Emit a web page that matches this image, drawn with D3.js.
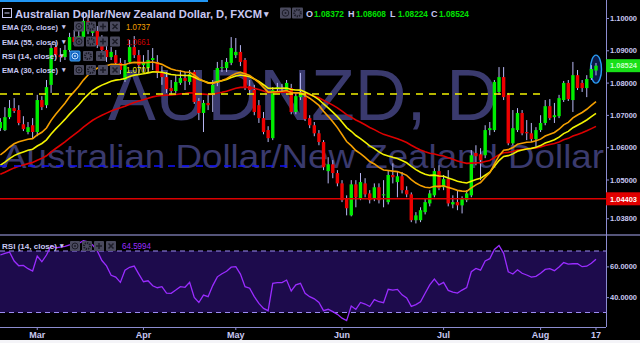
<!DOCTYPE html>
<html>
<head>
<meta charset="utf-8">
<script src="https://cdn.jsdelivr.net/npm/d3@7"></script>
<style>
  html, body { margin: 0; padding: 0; background: #000; overflow: hidden; }
  svg { display: block; }
  text { font-family: "Liberation Sans", Arial, sans-serif; }
</style>
</head>
<body>
<script>
// - AUDNZD daily candles with EMA 20/30/55 and RSI 14 -

// Data (Feb 17 - Aug 17 2017, weekdays)

const open = [
  1.0659, 1.0653, 1.0693, 1.0721, 1.0715, 1.0671, 1.0647, 1.0668, 1.0647, 1.0746,
  1.0730, 1.0793, 1.0910, 1.0885, 1.0879, 1.0901, 1.0941, 1.0926, 1.0941, 1.0991,
  1.0954, 1.0960, 1.0916, 1.0901, 1.0879, 1.0885, 1.0861, 1.0808, 1.0864, 1.0910,
  1.0885, 1.0854, 1.0845, 1.0870, 1.0864, 1.0830, 1.0817, 1.0783, 1.0774, 1.0799,
  1.0814, 1.0802, 1.0833, 1.0743, 1.0706, 1.0737, 1.0768, 1.0799, 1.0845, 1.0845,
  1.0861, 1.0885, 1.0895, 1.0870, 1.0789, 1.0777, 1.0730, 1.0690, 1.0653, 1.0628,
  1.0780, 1.0783, 1.0777, 1.0783, 1.0709, 1.0755, 1.0755, 1.0690, 1.0668, 1.0643,
  1.0616, 1.0526, 1.0547, 1.0520, 1.0488, 1.0442, 1.0389, 1.0485, 1.0442, 1.0488,
  1.0457, 1.0442, 1.0476, 1.0451, 1.0430, 1.0514, 1.0492, 1.0510, 1.0467, 1.0454,
  1.0374, 1.0374, 1.0399, 1.0426, 1.0451, 1.0526, 1.0476, 1.0501, 1.0423, 1.0430,
  1.0420, 1.0436, 1.0451, 1.0582, 1.0578, 1.0575, 1.0653, 1.0653, 1.0771, 1.0817,
  1.0762, 1.0612, 1.0653, 1.0706, 1.0647, 1.0643, 1.0625, 1.0653, 1.0675, 1.0727,
  1.0693, 1.0696, 1.0746, 1.0799, 1.0746, 1.0823, 1.0799, 1.0783, 1.0814, 1.08372
];
const high = [
  1.0690, 1.0724, 1.0746, 1.0752, 1.0730, 1.0696, 1.0678, 1.0690, 1.0762, 1.0758,
  1.0808, 1.0919, 1.0926, 1.0907, 1.0916, 1.0954, 1.0963, 1.0969, 1.1019, 1.1009,
  1.0981, 1.0975, 1.0947, 1.0916, 1.0910, 1.0901, 1.0876, 1.0870, 1.0932, 1.0944,
  1.0901, 1.0885, 1.0901, 1.0907, 1.0885, 1.0851, 1.0833, 1.0808, 1.0823, 1.0839,
  1.0833, 1.0839, 1.0839, 1.0752, 1.0746, 1.0762, 1.0808, 1.0864, 1.0870, 1.0876,
  1.0941, 1.0938, 1.0916, 1.0876, 1.0808, 1.0793, 1.0746, 1.0709, 1.0665, 1.0786,
  1.0799, 1.0796, 1.0808, 1.0796, 1.0768, 1.0830, 1.0771, 1.0699, 1.0678, 1.0653,
  1.0622, 1.0569, 1.0560, 1.0529, 1.0498, 1.0451, 1.0498, 1.0498, 1.0520, 1.0504,
  1.0467, 1.0488, 1.0488, 1.0498, 1.0529, 1.0550, 1.0523, 1.0523, 1.0479, 1.0460,
  1.0399, 1.0414, 1.0442, 1.0467, 1.0535, 1.0544, 1.0514, 1.0529, 1.0451, 1.0467,
  1.0448, 1.0467, 1.0591, 1.0606, 1.0597, 1.0668, 1.0678, 1.0808, 1.0848, 1.0848,
  1.0768, 1.0715, 1.0721, 1.0715, 1.0684, 1.0675, 1.0662, 1.0699, 1.0746, 1.0749,
  1.0737, 1.0762, 1.0805, 1.0808, 1.0864, 1.0839, 1.0808, 1.0823, 1.0854, 1.08608
];
const low = [
  1.0650, 1.0650, 1.0687, 1.0706, 1.0668, 1.0650, 1.0640, 1.0628, 1.0634, 1.0715,
  1.0721, 1.0768, 1.0879, 1.0864, 1.0870, 1.0895, 1.0916, 1.0913, 1.0932, 1.0950,
  1.0944, 1.0907, 1.0888, 1.0864, 1.0870, 1.0839, 1.0826, 1.0802, 1.0857, 1.0876,
  1.0823, 1.0833, 1.0833, 1.0839, 1.0814, 1.0793, 1.0768, 1.0762, 1.0768, 1.0793,
  1.0777, 1.0793, 1.0734, 1.0684, 1.0647, 1.0715, 1.0709, 1.0789, 1.0833, 1.0833,
  1.0854, 1.0876, 1.0851, 1.0777, 1.0762, 1.0699, 1.0675, 1.0640, 1.0616, 1.0622,
  1.0768, 1.0768, 1.0771, 1.0702, 1.0702, 1.0746, 1.0681, 1.0659, 1.0634, 1.0606,
  1.0529, 1.0488, 1.0504, 1.0479, 1.0430, 1.0389, 1.0386, 1.0414, 1.0436, 1.0445,
  1.0426, 1.0433, 1.0426, 1.0414, 1.0423, 1.0488, 1.0445, 1.0457, 1.0445, 1.0368,
  1.0364, 1.0368, 1.0392, 1.0417, 1.0445, 1.0467, 1.0467, 1.0417, 1.0411, 1.0405,
  1.0395, 1.0430, 1.0445, 1.0544, 1.0498, 1.0566, 1.0637, 1.0647, 1.0762, 1.0746,
  1.0606, 1.0606, 1.0647, 1.0637, 1.0622, 1.0616, 1.0600, 1.0647, 1.0668, 1.0684,
  1.0675, 1.0690, 1.0740, 1.0743, 1.0709, 1.0777, 1.0771, 1.0755, 1.0808, 1.08224
];
const close = [
  1.0678, 1.0693, 1.0721, 1.0712, 1.0675, 1.0656, 1.0662, 1.0647, 1.0746, 1.0724,
  1.0786, 1.0907, 1.0885, 1.0879, 1.0901, 1.0941, 1.0926, 1.0944, 1.0991, 1.0972,
  1.0963, 1.0916, 1.0901, 1.0879, 1.0895, 1.0861, 1.0839, 1.0854, 1.0910, 1.0885,
  1.0854, 1.0861, 1.0870, 1.0876, 1.0830, 1.0817, 1.0780, 1.0774, 1.0802, 1.0814,
  1.0805, 1.0826, 1.0740, 1.0706, 1.0737, 1.0730, 1.0793, 1.0845, 1.0848, 1.0864,
  1.0907, 1.0895, 1.0864, 1.0786, 1.0777, 1.0709, 1.0690, 1.0647, 1.0628, 1.0777,
  1.0786, 1.0780, 1.0799, 1.0709, 1.0758, 1.0768, 1.0687, 1.0668, 1.0643, 1.0616,
  1.0538, 1.0547, 1.0520, 1.0488, 1.0436, 1.0411, 1.0485, 1.0445, 1.0492, 1.0454,
  1.0436, 1.0476, 1.0436, 1.0454, 1.0514, 1.0507, 1.0510, 1.0467, 1.0454, 1.0374,
  1.0389, 1.0405, 1.0430, 1.0457, 1.0526, 1.0473, 1.0501, 1.0426, 1.0430, 1.0420,
  1.0442, 1.0457, 1.0575, 1.0572, 1.0560, 1.0653, 1.0659, 1.0802, 1.0817, 1.0755,
  1.0612, 1.0659, 1.0706, 1.0643, 1.0643, 1.0625, 1.0653, 1.0675, 1.0727, 1.0690,
  1.0699, 1.0752, 1.0799, 1.0749, 1.0823, 1.0783, 1.0783, 1.0811, 1.0842, 1.08524
];
const rsiValues = [
  67.4, 68.4, 69.3, 63.5, 60.4, 60.6, 58.5, 57.0, 66.7, 63.0,
  67.4, 73.5, 72.0, 72.5, 73.0, 74.0, 74.0, 75.0, 76.7, 76.0,
  73.9, 70.1, 63.8, 60.3, 54.2, 53.0, 49.6, 57.5, 59.4, 60.2,
  55.0, 50.0, 50.6, 47.4, 46.1, 46.8, 42.6, 42.5, 44.6, 46.8,
  46.4, 49.7, 39.8, 36.5, 41.3, 40.3, 47.5, 53.2, 55.2, 56.8,
  59.5, 59.8, 55.0, 46.8, 45.8, 40.3, 35.9, 32.7, 31.2, 49.0,
  49.4, 49.4, 51.1, 44.0, 48.0, 49.0, 42.5, 40.3, 38.9, 36.5,
  31.2, 32.1, 30.6, 28.8, 26.3, 24.7, 34.2, 32.0, 36.5, 35.5,
  33.9, 38.4, 37.0, 36.4, 45.1, 44.6, 45.0, 41.5, 39.4, 34.0,
  35.1, 37.0, 42.5, 48.0, 51.7, 48.0, 49.6, 44.4, 43.3, 42.6,
  44.6, 46.2, 56.5, 58.7, 57.5, 63.5, 65.0, 71.0, 73.6, 68.5,
  56.5, 55.0, 57.8, 55.5, 54.4, 53.0, 53.5, 55.5, 58.0, 58.5,
  57.2, 59.6, 62.5, 61.5, 61.7, 61.8, 59.8, 60.1, 62.0, 64.5994
];

// EMA start values at the first visible candle, and the legend readouts
const emaSeeds = { 20: 1.0576, 30: 1.0544, 55: 1.0516 };
const emaLegend = { 20: "1.0737", 55: "1.0661", 30: "1.0701" };

const priceTicks = [1.10, 1.09, 1.08, 1.07, 1.06, 1.05, 1.038];
const rsiTicks = [60, 40];
const rsiBands = [70, 30];
const supportLevel = 1.04403,
      yellowLevel = 1.0765,
      blueLevel = 1.0542;
const lastClose = 1.08524;

// Size

const w = 640, h = 343,
      paneR = 606,
      mainB = 234,
      rsiB = 327;

const svg = d3.select("body").append("svg")
              .attr("width", w)
              .attr("height", h);

svg.append("rect").attr("width", w).attr("height", h).attr("fill", "#000");

// Scales

const dates = d3.timeDay.range(new Date(2017, 1, 17), new Date(2017, 7, 18))
                .filter(d => d.getDay() % 6 !== 0)
                .slice(0, close.length);

const data = dates.map((d, i) => ({ date: d, o: open[i], h: high[i], l: low[i], c: close[i], rsi: rsiValues[i] }));

const x = d3.scaleBand().domain(dates).range([-2, 598.3]);
const cx = d => x(d) + x.bandwidth() / 2;
const y = d3.scaleLinear().domain([1.03313, 1.10557]).range([mainB, 0]);
const yr = d3.scaleLinear().domain([30, 70]).range([312.5, 251]);

function ema(n) {
  const a = 2 / (n + 1);
  let e = emaSeeds[n];
  return close.map((c, i) => (e = i === 0 ? emaSeeds[n] : a * c + (1 - a) * e));
}

const defs = svg.append("defs");
defs.append("clipPath").attr("id", "mainClip")
    .append("rect").attr("width", paneR).attr("height", mainB);
defs.append("clipPath").attr("id", "rsiClip")
    .append("rect").attr("y", mainB + 2).attr("width", paneR).attr("height", rsiB - mainB - 2);

// Main pane

const main = svg.append("g").attr("clip-path", "url(#mainClip)");

main.append("text")
    .attr("x", 303).attr("y", 120)
    .attr("text-anchor", "middle")
    .attr("font-size", 72)
    .attr("textLength", 390).attr("lengthAdjust", "spacingAndGlyphs")
    .attr("fill", "#3a3a6e")
    .text("AUDNZD, D");

main.append("text")
    .attr("x", 303).attr("y", 168)
    .attr("text-anchor", "middle")
    .attr("font-size", 34)
    .attr("textLength", 602).attr("lengthAdjust", "spacingAndGlyphs")
    .attr("fill", "#3a3a6e")
    .text("Australian Dollar/New Zealand Dollar");

// highlight around the last candle
const last = data[data.length - 1];
main.append("ellipse")
    .attr("cx", cx(last.date)).attr("cy", y((last.h + last.l) / 2))
    .attr("rx", 5.5).attr("ry", 14)
    .attr("fill", "#0a1a4a")
    .attr("stroke", "#2a9df4").attr("stroke-width", 1.4);

// candles
const candle = main.append("g");

candle.selectAll("line")
      .data(data)
      .join("line")
      .attr("x1", d => cx(d.date)).attr("x2", d => cx(d.date))
      .attr("y1", d => y(d.h)).attr("y2", d => y(d.l))
      .attr("stroke", "#b8b8f4").attr("stroke-width", 1);

candle.selectAll("rect")
      .data(data)
      .join("rect")
      .attr("x", d => cx(d.date) - 1.7)
      .attr("width", 3.4)
      .attr("y", d => y(Math.max(d.o, d.c)))
      .attr("height", d => Math.max(1, Math.abs(y(d.o) - y(d.c))))
      .attr("fill", d => d.c >= d.o ? "#00ee00" : "#ee0000");

// EMA lines
const line = d3.line().x((d, i) => cx(dates[i])).y(d => y(d));

[[55, "#dd0000"], [30, "#f2f200"], [20, "#f5a000"]].forEach(([n, col]) => {
  main.append("path")
      .datum(ema(n))
      .attr("d", line)
      .attr("fill", "none")
      .attr("stroke", col)
      .attr("stroke-width", 1.6);
});

// horizontal levels
main.append("line")
    .attr("x1", 0).attr("x2", cx(dates[117]))
    .attr("y1", y(yellowLevel)).attr("y2", y(yellowLevel))
    .attr("stroke", "#f2f200").attr("stroke-width", 1.5)
    .attr("stroke-dasharray", "7,6");

main.append("line")
    .attr("x1", 0).attr("x2", cx(dates[64]))
    .attr("y1", y(blueLevel)).attr("y2", y(blueLevel))
    .attr("stroke", "#1010ff").attr("stroke-width", 1.5)
    .attr("stroke-dasharray", "7,7");

main.append("line")
    .attr("x1", 0).attr("x2", paneR)
    .attr("y1", y(supportLevel)).attr("y2", y(supportLevel))
    .attr("stroke", "#dd0000").attr("stroke-width", 1.5);

// RSI pane

const rsiG = svg.append("g").attr("clip-path", "url(#rsiClip)");

rsiG.append("rect")
    .attr("x", 0).attr("width", paneR)
    .attr("y", yr(rsiBands[0])).attr("height", yr(rsiBands[1]) - yr(rsiBands[0]))
    .attr("fill", "#1d0b4c");

rsiG.selectAll("line.band")
    .data(rsiBands)
    .join("line")
    .attr("class", "band")
    .attr("x1", 0).attr("x2", paneR)
    .attr("y1", d => yr(d)).attr("y2", d => yr(d))
    .attr("stroke", "#9c8cf2").attr("stroke-width", 1)
    .attr("stroke-dasharray", "5,4");

rsiG.append("path")
    .datum(data)
    .attr("d", d3.line().x(d => cx(d.date)).y(d => yr(d.rsi)))
    .attr("fill", "none")
    .attr("stroke", "#9a2cff")
    .attr("stroke-width", 1.3);

// Frame lines

svg.append("rect").attr("x", 0).attr("y", mainB).attr("width", w).attr("height", 2).attr("fill", "#55557a");
svg.append("line").attr("x1", paneR + 0.5).attr("x2", paneR + 0.5).attr("y1", 0).attr("y2", rsiB)
   .attr("stroke", "#8c8cd0").attr("stroke-width", 1);
svg.append("line").attr("x1", 0).attr("x2", paneR).attr("y1", rsiB + 0.5).attr("y2", rsiB + 0.5)
   .attr("stroke", "#8c8cd0").attr("stroke-width", 1);
svg.append("rect").attr("x", 0).attr("y", 340).attr("width", w).attr("height", 3).attr("fill", "#f4f4f8");
svg.append("rect").attr("x", 0).attr("y", 0).attr("width", 208).attr("height", 2).attr("fill", "#2196f3");

// Axes

const labelColor = "#c8c8f2";

function styleAxis(g, width) {
  g.select(".domain").remove();
  g.selectAll(".tick line").attr("stroke", "#8c8cd0");
  g.selectAll(".tick text")
   .attr("fill", labelColor)
   .attr("font-size", width ? 8 : 9)
   .attr("font-weight", "bold")
   .attr("font-family", "Liberation Sans, Arial, sans-serif");
  if (width) g.selectAll(".tick text").attr("textLength", width).attr("lengthAdjust", "spacingAndGlyphs");
}

svg.append("g")
   .attr("transform", `translate(${paneR},0)`)
   .call(d3.axisRight(y).tickValues(priceTicks).tickFormat(d3.format(".5f")).tickSize(3).tickPadding(1))
   .call(g => styleAxis(g, 27));

svg.append("g")
   .attr("transform", `translate(${paneR},0)`)
   .call(d3.axisRight(yr).tickValues(rsiTicks).tickFormat(d3.format(".4f")).tickSize(3).tickPadding(1))
   .call(g => styleAxis(g, 27));

const monthStarts = dates.filter((d, i) => i > 0 && d.getMonth() !== dates[i - 1].getMonth());
const lastDate = dates[dates.length - 1];
const fmtMonth = d3.timeFormat("%b"), fmtDay = d3.timeFormat("%-d");

svg.append("g")
   .attr("transform", `translate(0,${rsiB})`)
   .call(d3.axisBottom(x).tickValues(monthStarts.concat([lastDate]))
           .tickFormat(d => d === lastDate ? fmtDay(d) : fmtMonth(d))
           .tickSize(3).tickPadding(2))
   .call(g => styleAxis(g));

// price labels on the scale
function priceTag(value, fill, textFill) {
  const g = svg.append("g").attr("transform", `translate(${paneR},${y(value)})`);
  g.append("rect").attr("x", 0).attr("y", -6.5).attr("width", w - paneR).attr("height", 13).attr("fill", fill);
  g.append("text").attr("x", 4).attr("dy", "0.35em")
   .attr("font-size", 8).attr("font-weight", "bold")
   .attr("textLength", 27).attr("lengthAdjust", "spacingAndGlyphs")
   .attr("fill", textFill)
   .text(d3.format(".5f")(value));
}
priceTag(lastClose, "#18e018", "#c8ffc8");
priceTag(supportLevel, "#e00000", "#ffffff");

// Header and legends

function txt(g, x0, y0, s, size, fill, width, weight) {
  const t = g.append("text")
             .attr("x", x0).attr("y", y0)
             .attr("font-size", size)
             .attr("font-weight", weight || "bold")
             .attr("fill", fill)
             .text(s);
  if (width) t.attr("textLength", width).attr("lengthAdjust", "spacingAndGlyphs");
  return t;
}

function icon(g, x0, y0, kind, size, active) {
  const s = size || 10;
  const b = g.append("g").attr("transform", `translate(${x0},${y0})`);
  b.append("rect").attr("width", s).attr("height", s).attr("rx", 1)
   .attr("fill", active ? "#1565c0" : "#4a4a5e")
   .attr("stroke", active ? "#42a5f5" : "none");
  const m = s / 2, ink = active ? "#bfe0ff" : "#1c1c28";
  if (kind === "eye") {
    b.append("circle").attr("cx", m).attr("cy", m).attr("r", s * 0.3).attr("fill", "none").attr("stroke", ink).attr("stroke-width", 1);
    b.append("circle").attr("cx", m).attr("cy", m).attr("r", 1).attr("fill", ink);
  } else if (kind === "gear") {
    b.append("circle").attr("cx", m).attr("cy", m).attr("r", s * 0.3).attr("fill", "none").attr("stroke", ink)
     .attr("stroke-width", 2).attr("stroke-dasharray", "1.3,1");
  } else if (kind === "plus") {
    b.append("path").attr("d", `M${m},2V${s - 2}M2,${m}H${s - 2}`).attr("stroke", ink).attr("stroke-width", 1.5);
  } else {
    b.append("path").attr("d", `M2.5,2.5L${s - 2.5},${s - 2.5}M${s - 2.5},2.5L2.5,${s - 2.5}`).attr("stroke", ink).attr("stroke-width", 1.5);
  }
}

const hdr = svg.append("g");

hdr.append("rect").attr("x", 2.5).attr("y", 8.5).attr("width", 9).attr("height", 9)
   .attr("fill", "none").attr("stroke", labelColor).attr("stroke-width", 1);
hdr.append("line").attr("x1", 4.5).attr("x2", 9.5).attr("y1", 13).attr("y2", 13)
   .attr("stroke", labelColor).attr("stroke-width", 1);

txt(hdr, 15, 18, "Australian Dollar/New Zealand Dollar, D, FXCM", 11, labelColor, 247);
txt(hdr, 264, 17, "▾", 9, labelColor);
icon(hdr, 280, 7.5, "eye", 11);
icon(hdr, 292, 7.5, "gear", 11);

const ohlcLabels = ["O", "H", "L", "C"];
const ohlcValues = [last.o, last.h, last.l, last.c];
const ohlcX = [306, 348, 390, 431];
ohlcLabels.forEach((k, i) => {
  txt(hdr, ohlcX[i], 17, k, 9, labelColor);
  txt(hdr, ohlcX[i] + 8, 17, d3.format(".5f")(ohlcValues[i]), 9, "#00e000", 30);
});

const legendRows = [
  { n: 20, name: "EMA (20, close)", y: 29.5, color: "#f5a000", icons: ["eye", "gear", "plus", "x"] },
  { n: 55, name: "EMA (55, close)", y: 44.5, color: "#cc0000", icons: ["eye", "gear", "plus", "x"] },
  { n: null, name: "RSI (14, close)", y: 59, color: null, icons: ["eye", "gear", "plus"] },
  { n: 30, name: "EMA (30, close)", y: 73, color: "#f2f200", icons: ["eye", "gear", "plus", "x"] }
];

legendRows.forEach(r => {
  const isRsi = r.n === null;
  txt(hdr, 2, r.y, r.name, 8, labelColor, isRsi ? 55 : 56);
  txt(hdr, isRsi ? 60 : 62, r.y - 1, "▾", 7, labelColor);
  const x0 = isRsi ? 70 : 74;
  r.icons.forEach((kind, j) => icon(hdr, x0 + j * (isRsi ? 13 : 12), r.y - 8, kind, 10, isRsi && j === 0));
  if (!isRsi) txt(hdr, 126, r.y, emaLegend[r.n], 9, r.color, 24, "normal");
});

// RSI legend
txt(hdr, 2, 249, "RSI (14, close)", 8, labelColor, 55);
txt(hdr, 60, 248, "▾", 7, labelColor);
["eye", "gear", "plus", "x"].forEach((kind, j) => icon(hdr, 70 + j * 12, 241, kind, 10));
txt(hdr, 122, 249, d3.format(".4f")(rsiValues[rsiValues.length - 1]), 9, "#9a2cff", 29, "normal");
</script>
</body>
</html>
